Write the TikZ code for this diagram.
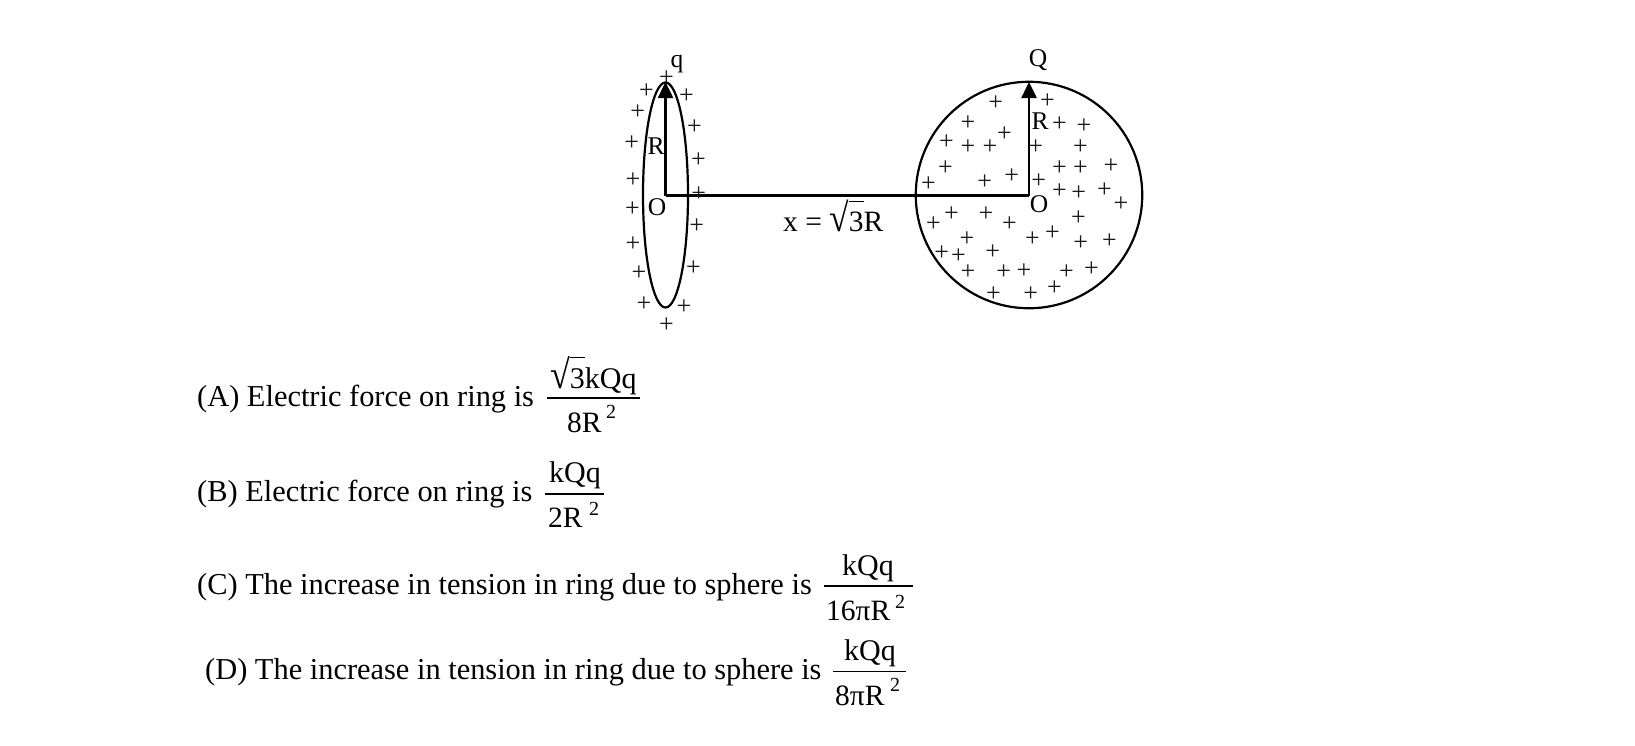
\documentclass[tikz,border=0pt]{standalone}
\usepackage{fontspec}
\setmainfont{Liberation Serif}
\usetikzlibrary{arrows.meta,shapes.geometric}
\newcommand{\txtsize}[1]{\fontsize{#1}{#1}\selectfont}
\newcommand{\rootthree}{\scalebox{1.2}[1.35]{√}\rlap{\rule[0.985em]{.5em}{.045em}}3}
\tikzset{
  chg/.style={inner sep=0pt,text=black!90,font=\txtsize{26}},
  optline/.style={anchor=base west,inner sep=0pt,font=\txtsize{30.4}},
  frtop/.style={anchor=base west,inner sep=0pt,font=\txtsize{30}},
  frbot/.style={anchor=base west,inner sep=0pt,font=\txtsize{29.5}},
  frsup/.style={inner sep=0pt,font=\txtsize{20}},
  lab/.style={inner sep=0pt,font=\txtsize{25.5}},
  frbar/.style={line width=1.3pt},
  axisline/.style={line width=2.5pt},
  radiusarrow/.style={line width=2.5pt,-{Triangle[length=16pt,width=15pt]}},
  outline/.style={draw,line width=2.2pt,inner sep=0pt}
}
\begin{document}
\begin{tikzpicture}[x=1pt,y=-1pt]
\useasboundingbox (0,0) rectangle (1635,745);
\fill[white] (0,0) rectangle (1635,745);
% ring and sphere
\node[outline,ellipse,minimum width=45pt,minimum height=225pt] (ring) at (665.5,195) {};
\node[outline,circle,minimum size=226.5pt] (sphere) at (1029,195) {};
\coordinate (ringO) at (665.5,195.5);
\coordinate (sphereO) at (1029,195.5);
\coordinate (ringtop) at (665.5,82);
\coordinate (spheretop) at (1029,82);
\draw[axisline] (ringO) -- (sphereO);
\draw[radiusarrow] (ringO) -- (ringtop);
\draw[radiusarrow] (sphereO) -- (spheretop);
% ring charges
\foreach \zx/\zy [count=\i] in {199/138,139/177,259/191,113/239,283/285,95/332,295/385,99/443,296/485,97/531,290/583,99/635,280/708,117/722,252/825,132/816,199/878}
  \node[chg] (rp\i) at ({600+\zx/3},{32+\zy/3}) {+};
% sphere charges
\foreach \zx/\zy [count=\i] in {287/214,442/208,204/274,478/275,552/282,313/307,139/329,204/345,270/345,407/345,541/345,136/409,478/408,541/408,633/402,85/455,254/450,335/431,416/446,478/476,536/484,613/475,663/516,154/545,258/547,100/575,328/577,535/559,201/620,397/621,457/602,542/634,628/627,125/664,175/673,278/660,204/721,311/721,372/718,499/721,574/710,280/785,392/785,463/769}
  \node[chg] (sp\i) at ({900+\zx/3},{32+\zy/3}) {+};
% labels
\node[lab] (lq) at (677,64) {q};
\node[lab] (lR1) at (656,146) {R};
\node[lab] (lO1) at (657,207) {O};
\node[lab] (lQ) at (1038,60) {Q};
\node[lab] (lR2) at (1040,121) {R};
\node[lab] (lO2) at (1039,204) {O};
\node[anchor=base west,inner sep=0pt,font=\txtsize{29.5}] (lx) at (783,231) {x = \rootthree R};
% option A
\node[optline] (A) at (197,406) {(A) Electric force on ring is};
\node[frtop] (An) at (550,388) {\rootthree kQq};
\coordinate (Ab1) at (547,398);
\coordinate (Ab2) at (640,398);
\draw[frbar] (Ab1) -- (Ab2);
\node[frbot] (Ad) at (567,432) {8R};
\node[frsup] (As) at (611,412) {2};
% option B
\node[optline] (B) at (197,501.5) {(B) Electric force on ring is};
\node[frtop] (Bn) at (549,482) {kQq};
\coordinate (Bb1) at (545,494);
\coordinate (Bb2) at (604,494);
\draw[frbar] (Bb1) -- (Bb2);
\node[frbot] (Bd) at (548,527) {2R};
\node[frsup] (Bs) at (594,509) {2};
% option C
\node[optline] (C) at (197,594) {(C) The increase in tension in ring due to sphere is};
\node[frtop] (Cn) at (842,575) {kQq};
\coordinate (Cb1) at (824,586);
\coordinate (Cb2) at (913,586);
\draw[frbar] (Cb1) -- (Cb2);
\node[frbot] (Cd) at (826,620.5) {16πR};
\node[frsup] (Cs) at (900,602) {2};
% option D
\node[optline] (D) at (205,679) {(D) The increase in tension in ring due to sphere is};
\node[frtop] (Dn) at (844,660) {kQq};
\coordinate (Db1) at (833,671.5);
\coordinate (Db2) at (906,671.5);
\draw[frbar] (Db1) -- (Db2);
\node[frbot] (Dd) at (835,705) {8πR};
\node[frsup] (Ds) at (895,685) {2};
\end{tikzpicture}
\end{document}
